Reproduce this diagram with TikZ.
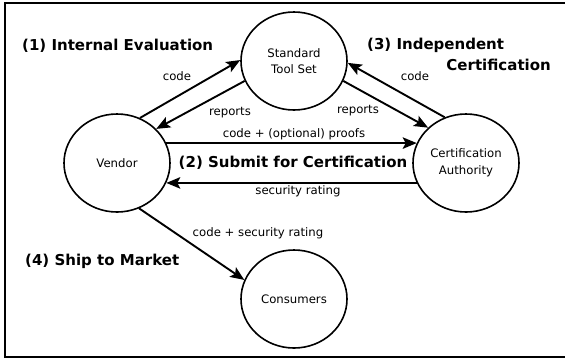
\documentclass[tikz,border=0pt]{standalone}
\usepackage{fontspec}
\setmainfont{DejaVu Sans}
\usetikzlibrary{shapes.geometric,arrows.meta}

\begin{document}
\begin{tikzpicture}[x=1pt, y=-1pt,
    party/.style={draw, ellipse, line width=1.6pt, minimum width=106pt, minimum height=98pt,
      inner sep=0pt, align=center, font=\fontsize{11.7}{16.5}\selectfont},
    flow/.style={line width=1.9pt, -{Stealth[length=14pt, width=11.5pt, inset=3pt]}},
    lbl/.style={inner sep=0pt, font=\fontsize{11.7}{14}\selectfont},
    phase/.style={inner sep=0pt, font=\fontsize{15}{20}\selectfont\bfseries}]
  \useasboundingbox (0,0) rectangle (565,360);
  \draw[line width=2pt] (5,2.5) rectangle (568,357);

  % the four parties
  \node[party] (tools) at (294,61) {Standard\\Tool Set};
  \node[party] (vendor) at (117,163) {Vendor};
  \node[party] (authority) at (466,163) {Certification\\Authority};
  \node[party] (consumers) at (294,299) {Consumers};

  % (1) internal evaluation
  \draw[flow] (vendor.63) -- (tools.179);
  \draw[flow] (tools.202) -- (vendor.41);
  \node[lbl] (evalcode) at (177,76) {code};
  \node[lbl] (evalreports) at (230,113) {reports};
  \node[phase, anchor=west] (evalphase) at (22,46) {(1) Internal Evaluation};

  % (2) submission
  \draw[flow] (vendor.22) -- (authority.158);
  \draw[flow] (authority.202) -- (vendor.-22);
  \node[lbl] (proofs) at (294,134) {code + (optional) proofs};
  \node[lbl] (rating) at (298,191) {security rating};
  \node[phase] (submitphase) at (293,163) {(2) Submit for Certification};

  % (3) independent certification
  \draw[flow] (authority.115) -- (tools.-2);
  \draw[flow] (tools.-22) -- (authority.137);
  \node[lbl] (certcode) at (415,76) {code};
  \node[lbl] (certreports) at (358,111) {reports};
  \node[phase, anchor=west] (certphase) at (367,45) {(3) Independent};
  \node[phase, anchor=east] (certphasetwo) at (551,65) {Certification};

  % (4) shipping
  \draw[flow] (vendor.-64) -- (consumers.159);
  \node[lbl] (shipped) at (258,233) {code + security rating};
  \node[phase, anchor=west] (shipphase) at (25,261) {(4) Ship to Market};
\end{tikzpicture}
\end{document}
